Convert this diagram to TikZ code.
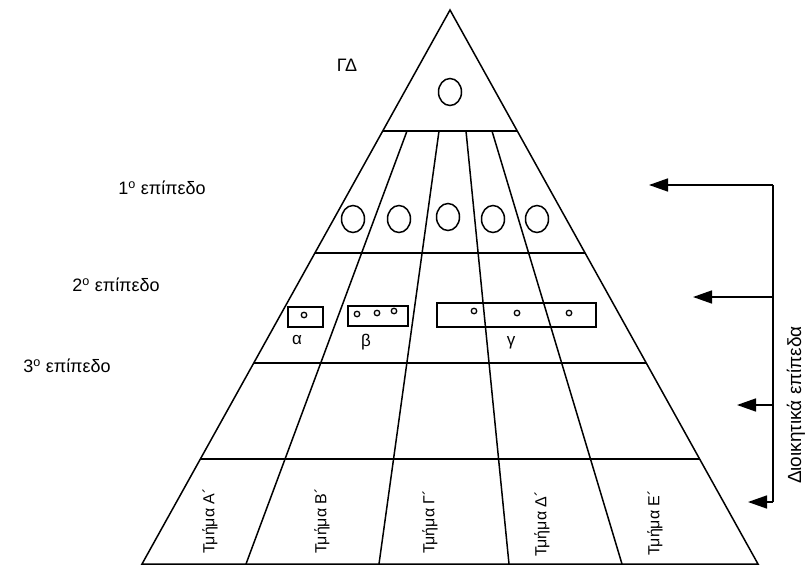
\documentclass[tikz,border=0pt]{standalone}
\usepackage{fontspec}
\setmainfont{Liberation Sans}
\usetikzlibrary{arrows.meta,shapes.geometric,calc}
\begin{document}
\begin{tikzpicture}[x=1pt,y=-1pt,line width=1.5pt,
  lab/.style={inner sep=0pt,font=\fontsize{16}{19}\selectfont},
  grp/.style={inner sep=0pt,font=\fontsize{17}{20}\selectfont},
  big/.style={inner sep=0pt,font=\fontsize{18}{21}\selectfont},
  side/.style={inner sep=0pt,font=\fontsize{19}{22}\selectfont},
  ell/.style={draw,ellipse,minimum width=23pt,minimum height=27pt,inner sep=0pt},
  dot/.style={draw,circle,minimum size=5.5pt,inner sep=0pt,line width=1.3pt},
  box/.style={draw,rectangle,inner sep=0pt},
  arr/.style={-{Triangle[length=19pt,width=13pt]}}]
\useasboundingbox (0,0) rectangle (806,565);

% outer triangle
\coordinate (apex) at (450,10);
\coordinate (bl) at (142,564);
\coordinate (br) at (758,564);
\draw (apex) -- (bl) -- (br) -- cycle;

% level separators
\foreach \t [count=\i] in {0.2184,0.4386,0.6372,0.8105}{
  \coordinate (L\i) at ($(apex)!\t!(bl)$);
  \coordinate (R\i) at ($(apex)!\t!(br)$);
  \draw (L\i) -- (R\i);
}

% department dividers
\foreach \xt/\xb [count=\i] in {407/246,439/379,466/509,492/622}{
  \coordinate (dt\i) at (\xt,131);
  \coordinate (db\i) at (\xb,564);
  \draw (dt\i) -- (db\i);
}

% level labels
\node[big] (gd) at (347,65.5) {ΓΔ};
\node[big] (l1) at (162,188) {1\textsuperscript{o} επίπεδο};
\node[big] (l2) at (116,285) {2\textsuperscript{o} επίπεδο};
\node[big] (l3) at (67,366) {3\textsuperscript{o} επίπεδο};

% managers
\node[ell] (m0) at (450,92) {};
\node[ell] (m1) at (353,219) {};
\node[ell] (m2) at (399,219) {};
\node[ell] (m3) at (448,217) {};
\node[ell] (m4) at (493,219) {};
\node[ell] (m5) at (537,219) {};

% second level groups
\node[box,minimum width=35pt,minimum height=20pt] (ga) at (305.5,317) {};
\node[box,minimum width=60pt,minimum height=20pt] (gb) at (378,316) {};
\node[box,minimum width=159pt,minimum height=24pt] (gc) at (516.5,315) {};
\node[dot] (a1) at (304,315) {};
\node[dot] (b1) at (357,314) {};
\node[dot] (b2) at (377,313) {};
\node[dot] (b3) at (394,311) {};
\node[dot] (c1) at (474,311) {};
\node[dot] (c2) at (517,313) {};
\node[dot] (c3) at (569,313) {};
\node[grp] (na) at (297,340) {α};
\node[grp] (nb) at (366,342) {β};
\node[grp] (nc) at (511,343) {γ};

% departments
\node[lab,rotate=90] (tA) at (210,521) {Τμήμα Α´};
\node[lab,rotate=90] (tB) at (322,521) {Τμήμα Β´};
\node[lab,rotate=90] (tC) at (430,522) {Τμήμα Γ´};
\node[lab,rotate=90] (tD) at (542,524) {Τμήμα Δ´};
\node[lab,rotate=90] (tE) at (655,523) {Τμήμα Ε´};

% administrative levels bracket
\coordinate (s1) at (773,185);
\coordinate (s2) at (773,297);
\coordinate (s3) at (773,405);
\coordinate (s4) at (773,502);
\coordinate (p1) at (649,185);
\coordinate (p2) at (693,297);
\coordinate (p3) at (737,405);
\coordinate (p4) at (748,502);
\draw (s1) -- (s4);
\foreach \i in {1,2,3,4}{\draw[arr] (s\i) -- (p\i);}
\node[side,rotate=90] (adm) at (796,405) {Διοικητικά επίπεδα};
\end{tikzpicture}
\end{document}
